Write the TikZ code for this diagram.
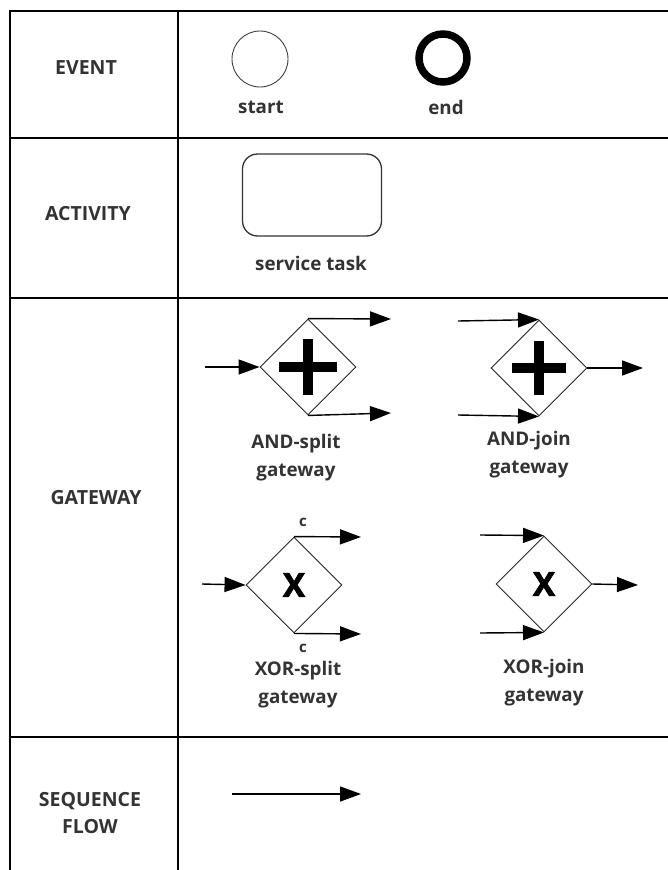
\documentclass[tikz,border=0pt]{standalone}
\usepackage{fontspec}
\setmainfont{Open Sans}
\newfontfamily\heavyfont{Open Sans}[BoldFeatures={FakeBold=2.5}]
\usetikzlibrary{shapes.geometric,arrows.meta}
\definecolor{ink}{HTML}{333333}
\begin{document}
\begin{tikzpicture}[x=1pt,y=-1pt,
  frame/.style={line width=2.6pt, black},
  rowlabel/.style={font=\fontsize{19.5}{27}\selectfont\bfseries, text=ink, align=center},
  caption/.style={font=\fontsize{18.8}{28}\selectfont\bfseries, text=ink, align=center},
  cond/.style={font=\fontsize{15}{18}\selectfont\bfseries, text=ink},
  gate/.style={diamond, draw=black!85, line width=0.9pt, minimum width=96pt,
    minimum height=96pt, inner sep=0pt, aspect=1,
    font=\fontsize{33}{33}\heavyfont\bfseries},
  flow/.style={line width=1.4pt, -{Triangle[length=21pt,width=15pt]}},
  plusbar/.style={fill=black}
]
% page
\fill[white] (0,0) rectangle (668,870);
\useasboundingbox (0,0) rectangle (668,870);

% table grid
\draw[frame] (668,11) -- (10,11) -- (10,870);
\draw[frame] (178,11) -- (178,870);
\draw[frame] (10,138) -- (668,138);
\draw[frame] (10,298) -- (668,298);
\draw[frame] (10,737) -- (668,737);

% row headings
\node[rowlabel] (hEvent) at (86,68) {EVENT};
\node[rowlabel] (hActivity) at (88,214) {ACTIVITY};
\node[rowlabel] (hGateway) at (96,498) {GATEWAY};
\node[rowlabel] (hFlow) at (90,813) {SEQUENCE\\FLOW};

% events
\node[circle, draw=black!75, line width=0.9pt, minimum size=56pt, inner sep=0pt] (start) at (260,59) {};
\node[circle, draw=black, line width=7.5pt, minimum size=48pt, inner sep=0pt] (end) at (443,58) {};
\node[caption] (startLbl) at (261,107) {start};
\node[caption] (endLbl) at (446,107) {end};

% activity
\node[rectangle, rounded corners=15pt, draw=black!80, line width=1.3pt,
      minimum width=139pt, minimum height=82pt] (task) at (312,195) {};
\node[caption] (taskLbl) at (311,263) {service task};

% AND-split gateway
\node[gate] (ands) at (308,367) {};
\fill[plusbar] ([xshift=-29pt,yshift=-5pt]ands.center) rectangle ([xshift=29pt,yshift=5pt]ands.center);
\fill[plusbar] ([xshift=-5pt,yshift=-28pt]ands.center) rectangle ([xshift=5pt,yshift=28pt]ands.center);
\coordinate (andsIn) at (205,367);
\coordinate (andsOutA) at (391,319);
\coordinate (andsOutB) at (391,413);
\draw[flow] (andsIn) -- (ands.west);
\draw[flow] (ands.north) -- (andsOutA);
\draw[flow] (ands.south) -- (andsOutB);
\node[caption] (andsLbl) at (296,458) {AND-split\\gateway};

% AND-join gateway
\node[gate] (andj) at (539,368) {};
\fill[plusbar] ([xshift=-27pt,yshift=-5pt]andj.center) rectangle ([xshift=27pt,yshift=5pt]andj.center);
\fill[plusbar] ([xshift=-5pt,yshift=-27pt]andj.center) rectangle ([xshift=5pt,yshift=27pt]andj.center);
\coordinate (andjInA) at (458,321);
\coordinate (andjInB) at (458,415);
\coordinate (andjOut) at (643,368);
\draw[flow] (andjInA) -- (andj.north);
\draw[flow] (andjInB) -- (andj.south);
\draw[flow] (andj.east) -- (andjOut);
\node[caption] (andjLbl) at (529,455) {AND-join\\gateway};

% XOR-split gateway
\node[gate] (xors) at (294,585) {X};
\coordinate (xorsIn) at (202,584);
\coordinate (xorsOutA) at (361,537);
\coordinate (xorsOutB) at (361,634);
\draw[flow] (xorsIn) -- (xors.west);
\draw[flow] (xors.north) -- (xorsOutA);
\draw[flow] (xors.south) -- (xorsOutB);
\node[cond] (condA) at (303,522) {c};
\node[cond] (condB) at (303,648) {c};
\node[caption] (xorsLbl) at (298,685) {XOR-split\\gateway};

% XOR-join gateway
\node[gate] (xorj) at (544,584) {X};
\coordinate (xorjInA) at (480,535);
\coordinate (xorjInB) at (480,633);
\coordinate (xorjOut) at (638,585);
\draw[flow] (xorjInA) -- (xorj.north);
\draw[flow] (xorjInB) -- (xorj.south);
\draw[flow] (xorj.east) -- (xorjOut);
\node[caption] (xorjLbl) at (544,683) {XOR-join\\gateway};

% sequence flow
\coordinate (seqFrom) at (232,794);
\coordinate (seqTo) at (361,794);
\draw[flow] (seqFrom) -- (seqTo);
\end{tikzpicture}
\end{document}
